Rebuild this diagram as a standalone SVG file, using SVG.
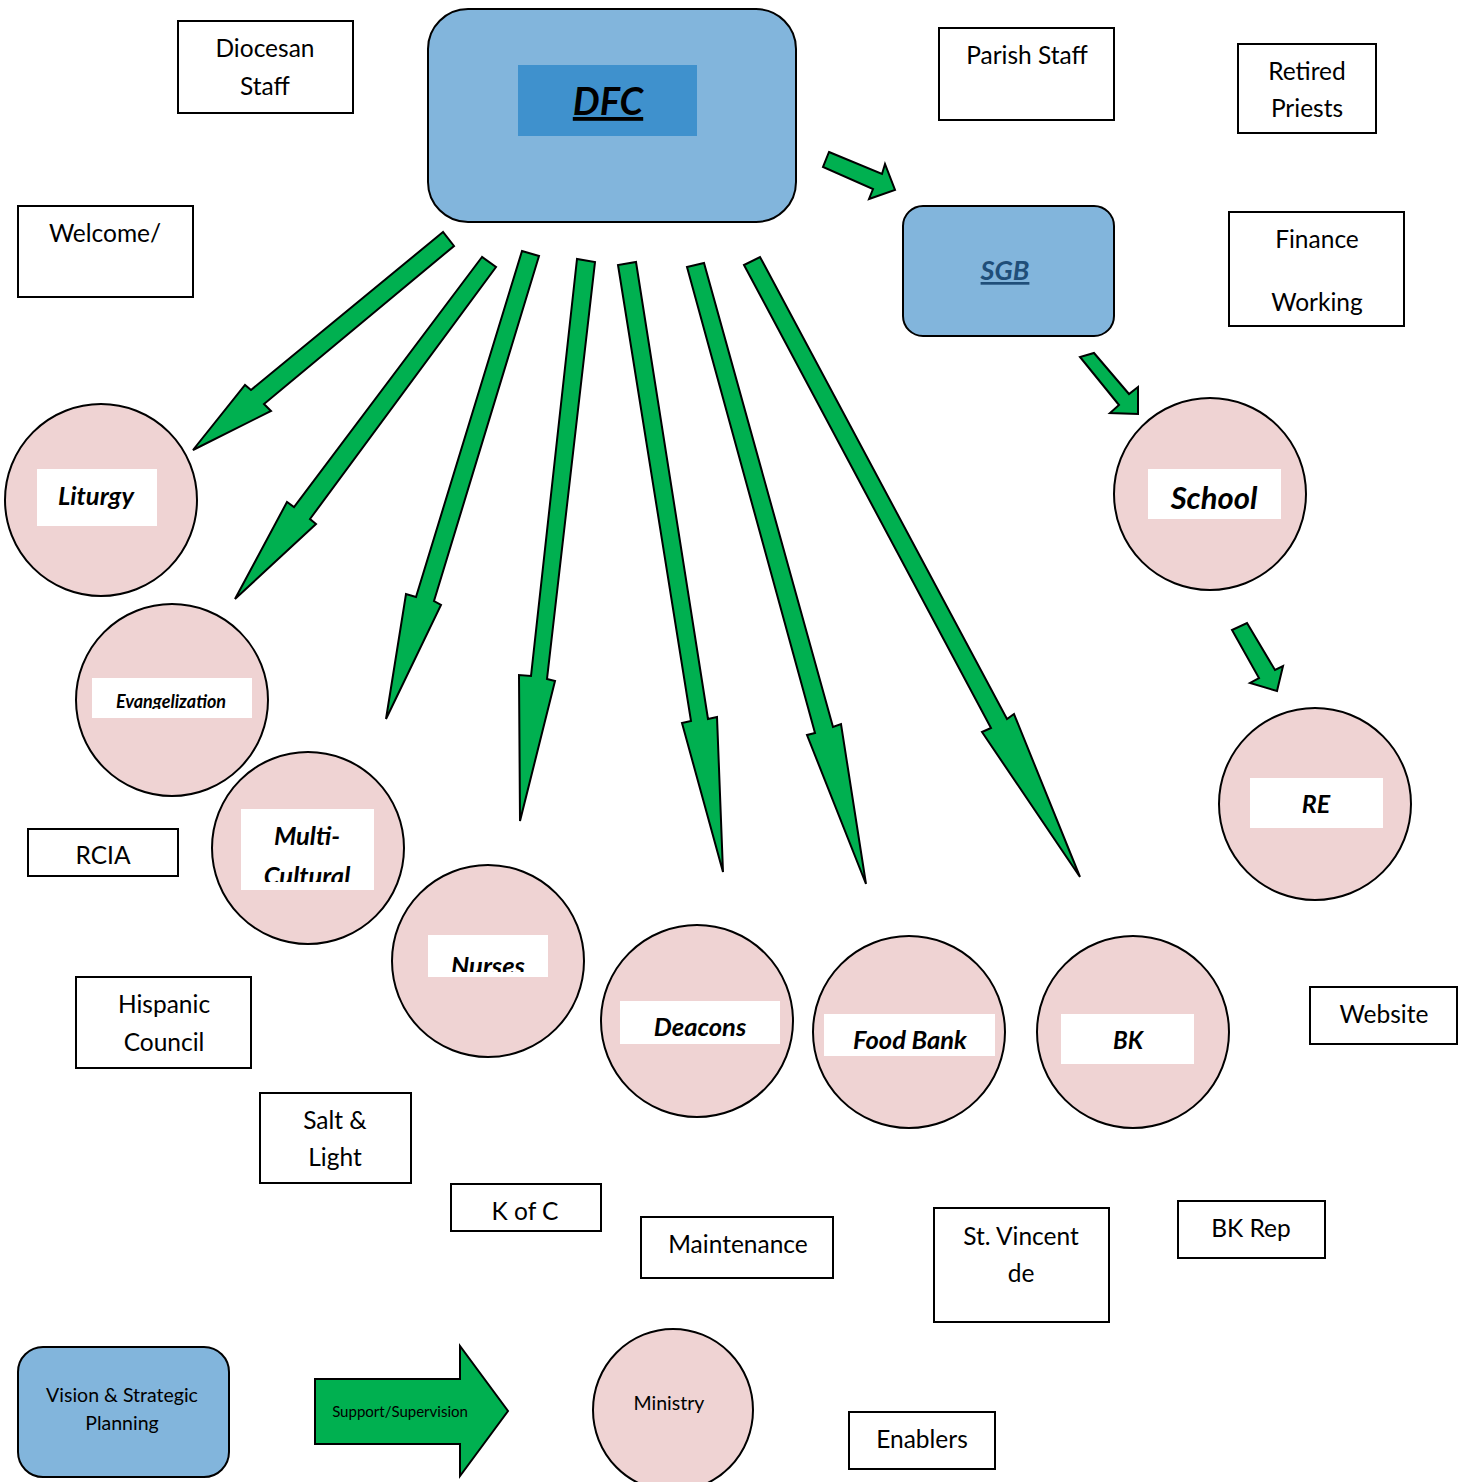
<svg xmlns="http://www.w3.org/2000/svg" width="1462" height="1482" viewBox="0 0 1462 1482">
<style>
.box{fill:#ffffff;stroke:#000000;stroke-width:2}
.circ{fill:#efd3d3;stroke:#000000;stroke-width:2}
.lbl{fill:#ffffff}
.arr{fill:#00b050;stroke:#000000;stroke-width:2;stroke-linejoin:miter}
.t{font-family:Lato,"Liberation Sans",sans-serif;font-size:24.5px;fill:#000000;text-anchor:middle}
.bi{font-family:Lato,"Liberation Sans",sans-serif;font-weight:bold;font-style:italic;fill:#000000;text-anchor:middle}
.blue{fill:#82b5dc;stroke:#000000;stroke-width:2}
</style>
<defs>
<clipPath id="clipEvan"><rect x="92" y="678" width="160" height="31"/></clipPath>
<clipPath id="clipCult"><rect x="241" y="809" width="133" height="73"/></clipPath>
<clipPath id="clipNurses"><rect x="428" y="935" width="120" height="37"/></clipPath>
</defs>
<rect width="1462" height="1482" fill="#ffffff"/>

<g id="dfc">
<rect class="blue" x="428" y="9" width="368" height="213" rx="40"/>
<rect x="518" y="65" width="179" height="71" fill="#3f91cd"/>
<text class="bi" x="608" y="115" font-size="38" text-decoration="underline">DFC</text>
</g>
<g id="sgb">
<rect class="blue" x="903" y="206" width="211" height="130" rx="20"/>
<text class="bi" x="1005" y="280" font-size="27" style="fill:#1f4e79" text-decoration="underline">SGB</text>
</g>

<g id="diocesan-staff"><rect class="box" x="178" y="21" width="175" height="92"/><text class="t" x="265" y="57">Diocesan</text><text class="t" x="265" y="95">Staff</text></g>
<g id="parish-staff"><rect class="box" x="939" y="28" width="175" height="92"/><text class="t" x="1027" y="64">Parish Staff</text></g>
<g id="retired-priests"><rect class="box" x="1238" y="44" width="138" height="89"/><text class="t" x="1307" y="80">Retired</text><text class="t" x="1307" y="117">Priests</text></g>
<g id="welcome"><rect class="box" x="18" y="206" width="175" height="91"/><text class="t" x="105" y="242">Welcome/</text></g>
<g id="finance-working"><rect class="box" x="1229" y="212" width="175" height="114"/><text class="t" x="1317" y="248">Finance</text><text class="t" x="1317" y="311">Working</text></g>
<g id="rcia"><rect class="box" x="28" y="829" width="150" height="47"/><text class="t" x="103" y="864">RCIA</text></g>
<g id="hispanic-council"><rect class="box" x="76" y="977" width="175" height="91"/><text class="t" x="164" y="1013">Hispanic</text><text class="t" x="164" y="1051">Council</text></g>
<g id="salt-light"><rect class="box" x="260" y="1093" width="151" height="90"/><text class="t" x="335" y="1129">Salt &amp;</text><text class="t" x="335" y="1166">Light</text></g>
<g id="k-of-c"><rect class="box" x="451" y="1184" width="150" height="47"/><text class="t" x="525" y="1220">K of C</text></g>
<g id="maintenance"><rect class="box" x="641" y="1217" width="192" height="61"/><text class="t" x="738" y="1253">Maintenance</text></g>
<g id="st-vincent"><rect class="box" x="934" y="1208" width="175" height="114"/><text class="t" x="1021" y="1245">St. Vincent</text><text class="t" x="1021" y="1282">de</text></g>
<g id="bk-rep"><rect class="box" x="1178" y="1201" width="147" height="57"/><text class="t" x="1251" y="1237">BK Rep</text></g>
<g id="website"><rect class="box" x="1310" y="987" width="147" height="57"/><text class="t" x="1384" y="1023">Website</text></g>
<g id="enablers"><rect class="box" x="849" y="1412" width="146" height="57"/><text class="t" x="922" y="1448">Enablers</text></g>

<g id="liturgy"><circle class="circ" cx="101" cy="500" r="96"/><rect class="lbl" x="37" y="469" width="120" height="57"/><text class="bi" x="96" y="505" font-size="25.5">Liturgy</text></g>
<g id="evangelization"><circle class="circ" cx="172" cy="700" r="96"/><rect class="lbl" x="92" y="678" width="160" height="40"/><text class="bi" x="171" y="708" font-size="18" clip-path="url(#clipEvan)">Evangelization</text></g>
<g id="multi-cultural"><circle class="circ" cx="308" cy="848" r="96"/><rect class="lbl" x="241" y="809" width="133" height="81"/><g clip-path="url(#clipCult)"><text class="bi" x="307" y="845" font-size="25.5">Multi-</text><text class="bi" x="307" y="885" font-size="25.5">Cultural</text></g></g>
<g id="nurses"><circle class="circ" cx="488" cy="961" r="96"/><rect class="lbl" x="428" y="935" width="120" height="42"/><text class="bi" x="488" y="975" font-size="25.5" clip-path="url(#clipNurses)">Nurses</text></g>
<g id="deacons"><circle class="circ" cx="697" cy="1021" r="96"/><rect class="lbl" x="620" y="1001" width="160" height="43"/><text class="bi" x="700" y="1036" font-size="25.5">Deacons</text></g>
<g id="food-bank"><circle class="circ" cx="909" cy="1032" r="96"/><rect class="lbl" x="824" y="1014" width="171" height="42"/><text class="bi" x="910" y="1049" font-size="25.5">Food Bank</text></g>
<g id="bk"><circle class="circ" cx="1133" cy="1032" r="96"/><rect class="lbl" x="1061" y="1014" width="133" height="50"/><text class="bi" x="1128" y="1049" font-size="24">BK</text></g>
<g id="school"><circle class="circ" cx="1210" cy="494" r="96"/><rect class="lbl" x="1148" y="469" width="133" height="50"/><text class="bi" x="1214" y="509" font-size="31">School</text></g>
<g id="re"><circle class="circ" cx="1315" cy="804" r="96"/><rect class="lbl" x="1250" y="778" width="133" height="50"/><text class="bi" x="1316" y="813" font-size="25">RE</text></g>

<g id="connectors">
<polygon class="arr" points="443,232 251,390 245,385 193,450 271,411 264,404 454,246"/>
<polygon class="arr" points="482,257 294,507 287,502 235,599 316,524 310,519 496,267"/>
<polygon class="arr" points="522,251 416,597 406,594 386,719 441,605 434,601 539,256"/>
<polygon class="arr" points="577,259 531,676 519,675 520,821 555,681 547,679 595,262"/>
<polygon class="arr" points="618,265 691,721 682,723 723,872 717,717 708,719 636,262"/>
<polygon class="arr" points="687,267 815,733 807,735 866,884 841,724 833,727 704,263"/>
<polygon class="arr" points="744,265 991,728 982,732 1080,877 1014,714 1007,719 760,257"/>
<polygon class="arr" points="829,152 882,174 885,164 895,190 869,199 873,189 823,167"/>
<polygon class="arr" points="1094,353 1129,394 1138,387 1138,414 1110,413 1119,405 1080,357"/>
<polygon class="arr" points="1247,623 1275,670 1283,666 1277,691 1250,683 1259,678 1232,630"/>
</g>

<g id="legend-vision"><rect class="blue" x="18" y="1347" width="211" height="130" rx="25"/><text class="t" x="122" y="1402" style="font-size:19.5px">Vision &amp; Strategic</text><text class="t" x="122" y="1430" style="font-size:19.5px">Planning</text></g>
<g id="legend-support"><polygon class="arr" points="315,1379 460,1379 460,1346 508,1411 460,1476 460,1444 315,1444"/><text class="t" x="400" y="1417" style="font-size:15px">Support/Supervision</text></g>
<g id="legend-ministry"><ellipse class="circ" cx="673" cy="1410" rx="80" ry="81"/><text class="t" x="669" y="1410" style="font-size:19.5px">Ministry</text></g>
</svg>
